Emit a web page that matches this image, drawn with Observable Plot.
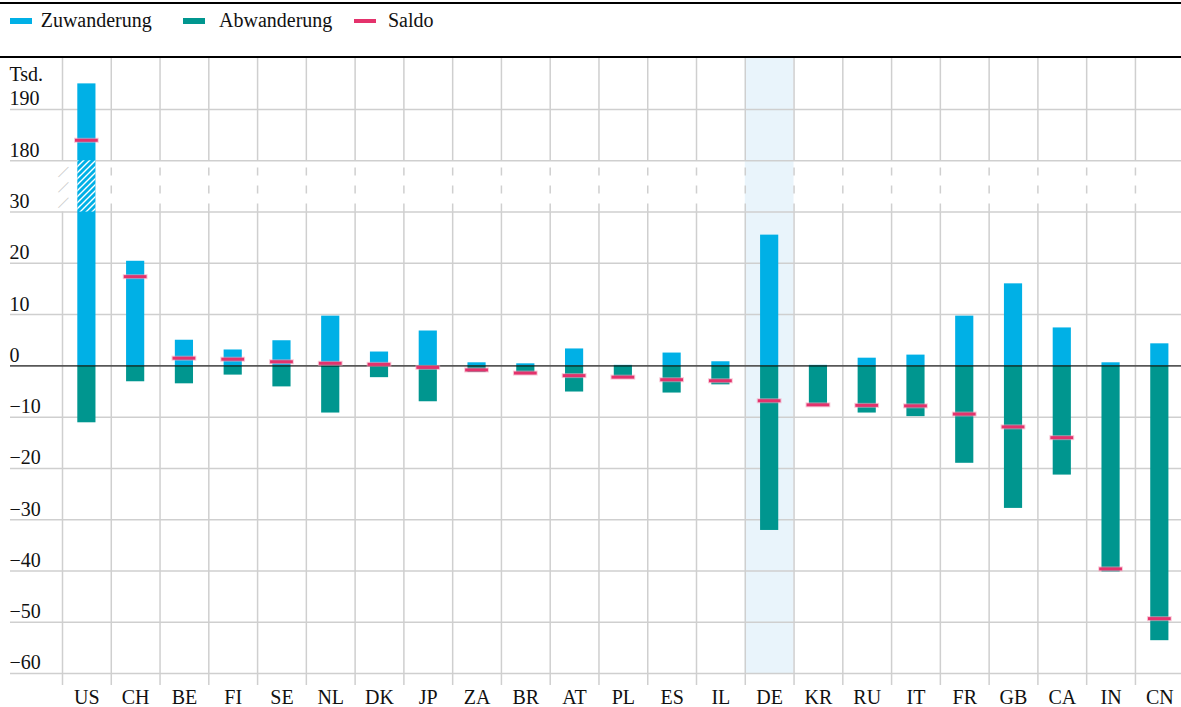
<!DOCTYPE html>
<html><head><meta charset="utf-8">
<script src="https://cdn.jsdelivr.net/npm/d3@7"></script>
<script src="https://cdn.jsdelivr.net/npm/@observablehq/plot@0.6"></script>
<style>
body{margin:0;background:#fff;font-family:"Liberation Serif","Times New Roman",serif;}
#legend{position:relative;margin-top:2px;border-top:2px solid #000;border-bottom:2px solid #000;height:52px;width:1181px;}
.sw{position:absolute;}
.lt{position:absolute;font-size:20px;line-height:20px;color:#111;white-space:nowrap;}
#chart svg{display:block;}
</style></head><body>
<div id="legend"></div>
<div id="chart"></div>
<script>
// ---- data ----
const countries = ["US","CH","BE","FI","SE","NL","DK","JP","ZA","BR","AT","PL","ES","IL","DE","KR","RU","IT","FR","GB","CA","IN","CN"];
const zuwanderung = [195, 20.4, 5.0, 3.1, 4.9, 9.7, 2.7, 6.8, 0.6, 0.4, 3.3, 0.1, 2.5, 0.8, 25.5, 0.1, 1.5, 2.1, 9.7, 16.0, 7.4, 0.6, 4.3];
const abwanderung = [-11.1, -3.1, -3.5, -1.8, -4.1, -9.2, -2.3, -7.0, -1.3, -1.7, -5.1, -2.3, -5.3, -3.7, -32.1, -7.7, -9.2, -9.9, -19.0, -27.8, -21.3, -40.2, -53.6];
const saldo = [184.0, 17.4, 1.5, 1.3, 0.8, 0.5, 0.3, -0.3, -0.8, -1.4, -1.9, -2.2, -2.7, -2.9, -6.8, -7.6, -7.7, -7.8, -9.4, -11.9, -14.0, -39.6, -49.3];
const yTicks = [190, 180, 30, 20, 10, 0, -10, -20, -30, -40, -50, -60];
const seriesNames = ["Zuwanderung", "Abwanderung", "Saldo"];
const seriesColors = ["#00b0e6", "#00968f", "#e4326c"];
const highlight = ["DE"];
const unitLabel = "Tsd.";
const breakRange = [30, 180];       // compressed axis segment
const breakMarks = [32, 35, 38];    // positions of the "//" marks in display units

// ---- legend ----
const legend = document.getElementById("legend");
const legendPos = [[10, 40.7], [183, 219], [354, 388]];
seriesNames.forEach((name, i) => {
  const sw = document.createElement("div");
  sw.className = "sw";
  const h = i === 2 ? 4 : 6;
  sw.style.cssText = `left:${legendPos[i][0]}px;top:${i===2?15:14}px;width:22px;height:${h}px;background:${seriesColors[i]}`;
  legend.appendChild(sw);
  const t = document.createElement("span");
  t.className = "lt";
  t.style.left = legendPos[i][1] + "px";
  t.style.top = "6px";
  t.textContent = name;
  legend.appendChild(t);
});

// ---- axis break mapping ----
const span = breakRange[1] - breakRange[0];
const brk = v => v <= breakRange[0] ? v : v >= breakRange[1] ? v - span + 10 : breakRange[0] + (v - breakRange[0]) * 10 / span;
const fmt = v => v < 0 ? "\u2212" + (-v) : String(v);

const data = countries.map((c, i) => ({country: c, zu: zuwanderung[i], ab: abwanderung[i], saldo: saldo[i]}));

const W = 1181, H = 649;
const x0 = 62, bw = 48.77;
const yMin = Math.min(...yTicks);
const yBottom = -62.34, yTop = 59.95;
const font = "Liberation Serif";
const gridC = "#cfcfcf";
const inset = 15.3;

const chart = Plot.plot({
  width: W, height: H,
  marginLeft: 10, marginRight: 0, marginTop: 0, marginBottom: 22,
  style: {fontFamily: font, fontSize: "20px", background: "white", color: "#111"},
  x: {domain: countries, range: [x0, x0 + bw * countries.length], padding: 0, round: false, axis: null},
  y: {domain: [yBottom, yTop], axis: null},
  marks: [
    // highlight band
    Plot.barY(highlight, {x: d => d, y1: () => yMin, y2: () => yTop, fill: "#e9f4fb"}),
    // horizontal grid
    Plot.ruleY(yTicks, {y: d => brk(d), stroke: gridC, strokeWidth: 1.5}),
    // vertical grid (band boundaries)
    Plot.ruleX(countries, {x: d => d, dx: -bw / 2, y1: () => brk(breakRange[1]), y2: () => yTop, stroke: gridC, strokeWidth: 1.5}),
    Plot.ruleX(countries, {x: d => d, dx: -bw / 2, y1: () => yBottom, y2: () => brk(breakRange[0]), stroke: gridC, strokeWidth: 1.5}),
    Plot.ruleX(countries.slice(1), {x: d => d, dx: -bw / 2, y1: () => brk(breakRange[0]), y2: () => brk(breakRange[1]), stroke: gridC, strokeWidth: 1.5, strokeDasharray: "8 10"}),
    // break marks
    Plot.text(breakMarks, {x: () => countries[0], y: d => d, dx: -bw / 2, text: () => "\u2014", rotate: -45, fontSize: 14, fill: "#c8c8c8"}),
    // bars
    Plot.barY(data, {x: "country", y1: () => 0, y2: d => brk(d.zu), fill: seriesColors[0], insetLeft: inset, insetRight: inset}),
    Plot.barY(data, {x: "country", y1: () => 0, y2: d => brk(d.ab), fill: seriesColors[1], insetLeft: inset, insetRight: inset}),
    // hatch over the break segment of bars crossing it
    Plot.barY(data.filter(d => d.zu > breakRange[1]), {x: "country", y1: () => breakRange[0], y2: () => brk(breakRange[1]), fill: "url(#hatch)", insetLeft: inset, insetRight: inset}),
    // zero line
    Plot.ruleY([0], {stroke: "#000", strokeOpacity: 0.58, strokeWidth: 1.8}),
    // saldo ticks
    Plot.tickY(data, {x: "country", y: d => brk(d.saldo), stroke: "#f3a3bd", strokeOpacity: 0.6, strokeWidth: 5, insetLeft: 12, insetRight: 12}),
    Plot.tickY(data, {x: "country", y: d => brk(d.saldo), stroke: seriesColors[2], strokeWidth: 3, insetLeft: 13, insetRight: 13}),
    // y tick labels
    Plot.text(yTicks, {y: d => brk(d), text: d => fmt(d), frameAnchor: "left", textAnchor: "start", dx: -1, dy: -10.5, fontSize: 20, fontFamily: font, fill: "#111"}),
    Plot.text([unitLabel], {text: d => d, frameAnchor: "top-left", textAnchor: "start", dx: -1, dy: 8, fontSize: 20, fontFamily: font, fill: "#111"}),
    // x labels
    Plot.text(countries, {x: d => d, text: d => d, frameAnchor: "bottom", dy: 18.5, fontSize: 20, fontFamily: font, fill: "#111"})
  ]
});

// pattern definition for hatch
const ns = "http://www.w3.org/2000/svg";
const defs = document.createElementNS(ns, "defs");
const pat = document.createElementNS(ns, "pattern");
pat.setAttribute("id", "hatch");
pat.setAttribute("patternUnits", "userSpaceOnUse");
pat.setAttribute("width", "6");
pat.setAttribute("height", "6");
const p = document.createElementNS(ns, "path");
p.setAttribute("d", "M0,6 L6,0 M-1,1 L1,-1 M5,7 L7,5");
p.setAttribute("stroke", "#ffffff");
p.setAttribute("stroke-width", "1.4");
pat.appendChild(p);
defs.appendChild(pat);
chart.insertBefore(defs, chart.firstChild);

document.getElementById("chart").appendChild(chart);
</script>
</body></html>
